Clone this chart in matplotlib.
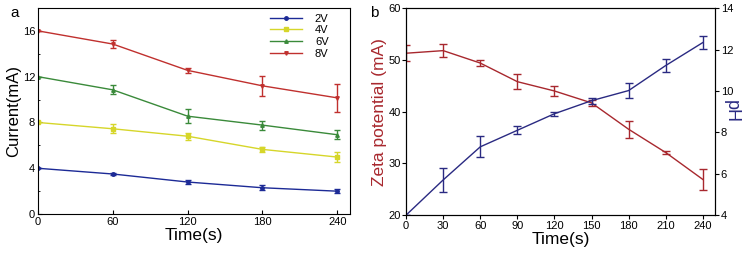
import numpy as np
import matplotlib.pyplot as plt
from matplotlib.ticker import MultipleLocator
from matplotlib.lines import Line2D

plt.rcParams['font.family'] = ['Liberation Sans', 'DejaVu Sans']

# panel a data
time_a = [0, 60, 120, 180, 240]
cur_2v = [4.0, 3.5, 2.8, 2.3, 2.0]
err_2v = [0.0, 0.05, 0.15, 0.2, 0.2]
cur_4v = [8.0, 7.45, 6.8, 5.65, 4.98]
err_4v = [0.0, 0.4, 0.3, 0.2, 0.4]
cur_6v = [12.0, 10.85, 8.55, 7.77, 6.93]
err_6v = [0.0, 0.4, 0.6, 0.4, 0.4]
cur_8v = [16.0, 14.85, 12.55, 11.2, 10.15]
err_8v = [0.0, 0.35, 0.25, 0.9, 1.2]

# panel b data
time_b = [0, 30, 60, 90, 120, 150, 180, 210, 240]
zeta = [51.3, 51.8, 49.4, 45.8, 44.0, 41.7, 36.6, 32.1, 26.9]
zeta_err = [1.6, 1.3, 0.6, 1.4, 1.0, 0.6, 1.6, 0.3, 2.0]
ph = [4.0, 5.7, 7.3, 8.1, 8.9, 9.53, 10.02, 11.23, 12.34]
ph_err = [0.0, 0.56, 0.5, 0.2, 0.1, 0.15, 0.35, 0.3, 0.3]

fig = plt.figure(figsize=(7.52, 2.57), dpi=100)

# ---- panel a
ax1 = fig.add_axes([0.0505, 0.167, 0.4145, 0.802])
series = [(cur_2v, err_2v, '#1c2a96', 'o', '2V'),
          (cur_4v, err_4v, '#d6d62a', 's', '4V'),
          (cur_6v, err_6v, '#3a8a3a', '^', '6V'),
          (cur_8v, err_8v, '#c0302e', 'v', '8V')]
handles = []
for y, e, c, m, lab in series:
    ax1.errorbar(time_a, y, yerr=e, color=c, marker=m, markersize=2.5,
                 lw=1, capsize=2.5, elinewidth=1)
    handles.append(Line2D([], [], color=c, marker=m, markersize=2.5, lw=1, label=lab))
ax1.set_xlim(0, 250)
ax1.set_ylim(0, 18)
ax1.set_xticks(time_a)
ax1.set_yticks([0, 4, 8, 12, 16])
ax1.yaxis.set_minor_locator(MultipleLocator(2))
ax1.tick_params(direction='in', labelsize=8, length=3, pad=2)
ax1.tick_params(which='minor', direction='in', length=1.5)
ax1.set_xlabel('Time(s)', fontsize=12.5, labelpad=1)
ax1.set_ylabel('Current(mA)', fontsize=12, labelpad=1)
ax1.legend(handles=handles, loc='upper right', frameon=False, fontsize=8,
           handlelength=2.8, handletextpad=1.2, labelspacing=0.15,
           borderaxespad=0.1, bbox_to_anchor=(0.95, 1.0))
fig.text(0.014, 0.935, 'a', fontsize=11)

# ---- panel b
ax2 = fig.add_axes([0.540, 0.163, 0.411, 0.805])
ax2.errorbar(time_b, zeta, yerr=zeta_err, color='#a8282e', lw=1,
             capsize=3, elinewidth=1)
ax2.set_xlim(0, 250)
ax2.set_ylim(20, 60)
ax2.set_xticks(time_b)
ax2.set_yticks([20, 30, 40, 50, 60])
ax2.tick_params(labelsize=8, length=3, pad=1)
ax2.set_xlabel('Time(s)', fontsize=12.5, labelpad=1)
ax2.set_ylabel('Zeta potential (mA)', fontsize=12.5, color='#a8282e', labelpad=1)

ax3 = ax2.twinx()
ax3.errorbar(time_b, ph, yerr=ph_err, color='#2a2a82', lw=1,
             capsize=3, elinewidth=1)
ax3.set_ylim(4, 14)
ax3.set_yticks([4, 6, 8, 10, 12, 14])
ax3.tick_params(labelsize=8, length=3, pad=1)
ax3.set_ylabel('pH', fontsize=13, color='#2a2a82', rotation=270, labelpad=5)
fig.text(0.492, 0.935, 'b', fontsize=11)

fig.savefig('out.png', dpi=100)
